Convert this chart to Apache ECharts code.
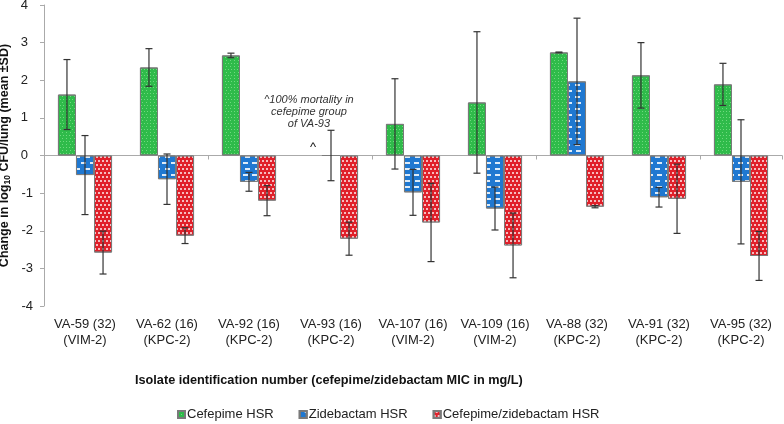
<!DOCTYPE html>
<html>
<head>
<meta charset="utf-8">
<script src="https://cdn.jsdelivr.net/npm/echarts@6/dist/echarts.min.js"></script>
<style>html,body{margin:0;padding:0;background:#fff}#c{width:784px;height:424px}</style>
</head>
<body>
<div id="c"></div>
<script>
const categories = ['VA-59 (32)\n(VIM-2)', 'VA-62 (16)\n(KPC-2)', 'VA-92 (16)\n(KPC-2)', 'VA-93 (16)\n(KPC-2)', 'VA-107 (16)\n(VIM-2)', 'VA-109 (16)\n(VIM-2)', 'VA-88 (32)\n(KPC-2)', 'VA-91 (32)\n(KPC-2)', 'VA-95 (32)\n(KPC-2)'];
const seriesNames = ['Cefepime HSR', 'Zidebactam HSR', 'Cefepime/zidebactam HSR'];
const cefepime = [1.62, 2.34, 2.66, null, 0.84, 1.41, 2.74, 2.13, 1.89];
const cefepimeSD = [0.93, 0.50, 0.06, null, 1.20, 1.88, 0.01, 0.87, 0.56];
const zidebactam = [-0.52, -0.63, -0.70, 0, -0.98, -1.41, 1.97, -1.11, -0.70];
const zidebactamSD = [1.05, 0.67, 0.25, 0.67, 0.61, 0.57, 1.68, 0.26, 1.65];
const combo = [-2.58, -2.13, -1.20, -2.21, -1.78, -2.39, -1.36, -1.15, -2.67];
const comboSD = [0.57, 0.21, 0.40, 0.44, 1.04, 0.86, 0.03, 0.92, 0.65];
const yTicks = [-4, -3, -2, -1, 0, 1, 2, 3, 4];
const annotation = '^100% mortality in\ncefepime group\nof VA-93';
const missingIndex = 3;

const CAT_GAP = 0.34;
const FONT = 'Liberation Sans, Arial, sans-serif';

function barSeries(name, values, color, decal, idx) {
  return {
    name: name,
    type: 'bar',
    xAxisIndex: 0,
    barGap: '0%',
    barCategoryGap: (CAT_GAP * 100) + '%',
    itemStyle: { color: color, borderColor: '#7a7a7a', borderWidth: 1, decal: decal },
    data: values.map((v, i) => {
      if (v == null && idx === 0 && i === missingIndex) {
        return {
          value: 0,
          itemStyle: { borderWidth: 0, color: 'rgba(0,0,0,0)' },
          label: {
            show: true, position: 'top', distance: 1,
            formatter: '{t|' + annotation.split('\n').join('}\n{t|') + '}\n{g|}\n{c|^}',
            rich: {
              t: { fontFamily: FONT, fontStyle: 'italic', fontSize: 11, color: '#333', lineHeight: 12, align: 'center', padding: [0, 8, 0, 0] },
              g: { height: 11, lineHeight: 11 },
              c: { fontFamily: FONT, fontSize: 13, color: '#111', lineHeight: 14, align: 'center' }
            }
          }
        };
      }
      return v;
    })
  };
}

function errSeries(idx, means, sds) {
  const data = [];
  means.forEach((m, i) => { if (m != null) data.push([i, m, sds[i]]); });
  return {
    type: 'custom',
    xAxisIndex: 0,
    z: 10,
    silent: true,
    encode: { x: 0, y: 1 },
    data: data,
    renderItem: function (params, api) {
      const i = api.value(0), m = api.value(1), s = api.value(2);
      const band = api.size([1, 0])[0];
      const bw = band * (1 - CAT_GAP) / 3;
      const x = api.coord([i, m])[0] + (idx - 1) * bw;
      const yt = api.coord([i, m + s])[1];
      const yb = api.coord([i, m - s])[1];
      const cap = 3.5;
      const st = { stroke: '#333', lineWidth: 1.2 };
      return {
        type: 'group',
        children: [
          { type: 'line', shape: { x1: x, y1: yt, x2: x, y2: yb }, style: st },
          { type: 'line', shape: { x1: x - cap, y1: yt, x2: x + cap, y2: yt }, style: st },
          { type: 'line', shape: { x1: x - cap, y1: yb, x2: x + cap, y2: yb }, style: st }
        ]
      };
    }
  };
}

const chart = echarts.init(document.getElementById('c'));
chart.setOption({
  animation: false,
  backgroundColor: '#fff',
  textStyle: { fontFamily: FONT },
  title: {
    text: 'Isolate identification number (cefepime/zidebactam MIC in mg/L)',
    left: 135, top: 374, padding: 0,
    textStyle: { fontFamily: FONT, fontSize: 12.7, fontWeight: 'bold', color: '#111' }
  },
  legend: {
    data: seriesNames,
    left: 177, top: 408, padding: 0,
    itemWidth: 7, itemHeight: 7, itemGap: 25,
    icon: 'rect',
    textStyle: { fontFamily: FONT, fontSize: 13, color: '#222', padding: [0, 0, 0, -3] }
  },
  grid: { left: 44, right: 2, top: 5, bottom: 118, containLabel: false, outerBoundsMode: 'none' },
  xAxis: [
    {
      type: 'category', data: categories, position: 'bottom',
      axisLine: { onZero: true, lineStyle: { color: '#aaaaaa', width: 1 } },
      axisTick: { show: true, length: 4, lineStyle: { color: '#aaaaaa' } },
      axisLabel: { show: false }
    },
    {
      type: 'category', data: categories, position: 'bottom',
      axisLine: { show: false, onZero: false },
      axisTick: { show: false },
      axisLabel: { show: true, margin: 10, fontFamily: FONT, fontSize: 13, color: '#222', lineHeight: 16, interval: 0 }
    }
  ],
  yAxis: {
    type: 'value', min: -4, max: 4, interval: 1,
    splitLine: { show: false },
    axisLine: { show: true, lineStyle: { color: '#aaaaaa' } },
    axisTick: { show: true, length: 4, lineStyle: { color: '#aaaaaa' } },
    axisLabel: { margin: 11,
      formatter: v => yTicks.indexOf(v) < 0 ? '' : (v < 0 ? '{n|' + v + '}' : '{p|' + v + '}'),
      rich: {
        n: { fontFamily: FONT, fontSize: 13, color: '#222' },
        p: { fontFamily: FONT, fontSize: 13, color: '#222', padding: [0, 5, 0, 0] }
      }
    },
    name: '{a|Change in log}{s|10}{a| CFU/lung (mean ±SD)}',
    nameLocation: 'middle', nameGap: 32, nameMoveOverlap: false,
    nameTextStyle: {
      rich: {
        a: { fontFamily: FONT, fontSize: 12.5, fontWeight: 'bold', color: '#111' },
        s: { fontFamily: FONT, fontSize: 8.5, fontWeight: 'bold', color: '#111', verticalAlign: 'bottom', padding: [6, 0, 0, 0] }
      }
    }
  },
  series: [
    barSeries(seriesNames[0], cefepime, '#2fbb4a',
      { symbol: 'rect', symbolSize: 1, color: 'rgba(190,255,190,0.45)', dashArrayX: [[1, 2], [0, 1.5, 1, 0.5]], dashArrayY: [1, 1.5] }, 0),
    barSeries(seriesNames[1], zidebactam, '#1f78d1',
      { symbol: 'rect', symbolSize: 1, color: 'rgba(255,255,255,0.85)', dashArrayX: [[5, 4], [0, 4.5, 5, 0]], dashArrayY: [1.5, 4] }, 1),
    barSeries(seriesNames[2], combo, '#e0202a',
      { symbol: 'rect', symbolSize: 1, color: 'rgba(255,255,255,0.7)', dashArrayX: [[1.5, 1.5], [0, 1.5, 1.5, 0]], dashArrayY: [1.5, 1.5] }, 2),
    errSeries(0, cefepime, cefepimeSD),
    errSeries(1, zidebactam, zidebactamSD),
    errSeries(2, combo, comboSD)
  ]
});
</script>
</body>
</html>
